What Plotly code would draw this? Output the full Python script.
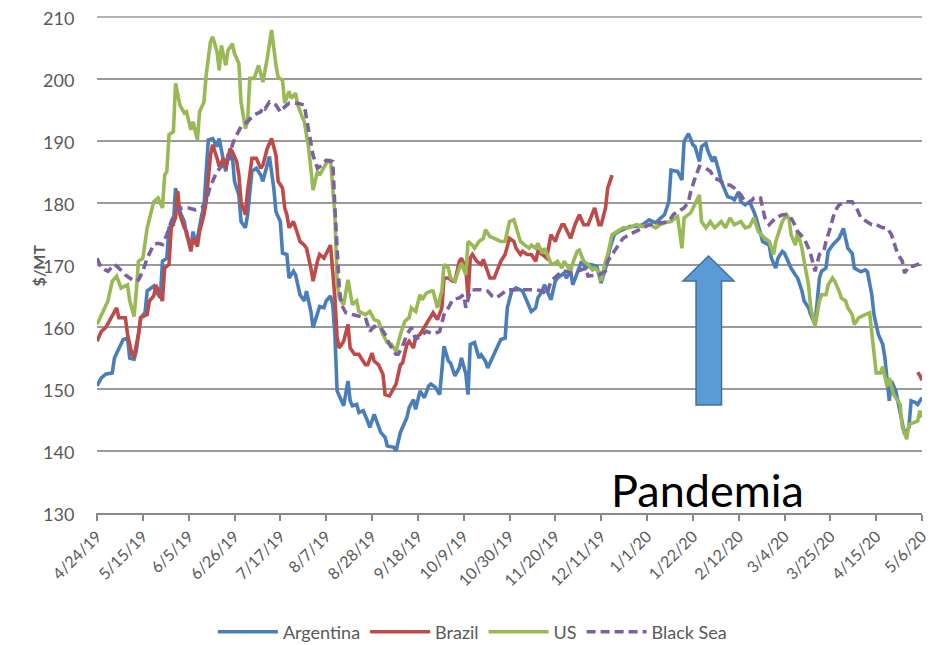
import pandas as pd
import plotly.graph_objects as go

START = "2019-04-24"

TICK_LABELS = ["4/24/19", "5/15/19", "6/5/19", "6/26/19", "7/17/19", "8/7/19", "8/28/19",
               "9/18/19", "10/9/19", "10/30/19", "11/20/19", "12/11/19", "1/1/20", "1/22/20",
               "2/12/20", "3/4/20", "3/25/20", "4/15/20", "5/6/20"]

# ---- Argentina ($/MT), x = days since START ----
ARG_DAY = [0, 2, 4, 7, 8, 10, 12, 14, 15, 17,
           18, 20, 22, 23, 26, 27, 29, 30, 32, 33,
           35, 36, 38, 40, 41, 43, 44, 45, 46, 48,
           49, 51, 53, 55, 56, 58, 59, 60, 62, 63,
           65, 66, 68, 69, 71, 73, 75, 76, 79, 81,
           82, 84, 85, 87, 88, 90, 91, 93, 95, 96,
           98, 99, 101, 102, 104, 105, 107, 108, 109, 110,
           111, 113, 115, 116, 117, 119, 120, 122, 124, 125,
           127, 129, 130, 132, 133, 136, 137, 139, 140, 142,
           143, 145, 146, 148, 150, 152, 153, 155, 157, 159,
           161, 162, 164, 166, 167, 169, 170, 171, 173, 175,
           176, 178, 179, 181, 183, 185, 187, 188, 190, 192,
           195, 197, 199, 201, 202, 204, 205, 207, 208, 210,
           211, 214, 215, 217, 218, 220, 222, 224, 226, 229,
           231, 233, 235, 237, 239, 241, 244, 247, 250, 253,
           256, 259, 260, 262, 263, 266, 268, 269, 271, 273,
           274, 276, 277, 279, 280, 282, 283, 285, 286, 288,
           289, 291, 292, 294, 295, 297, 299, 301, 302, 305,
           308, 309, 311, 312, 314, 315, 317, 318, 320, 321,
           323, 324, 326, 327, 329, 331, 332, 334, 335, 337,
           340, 342, 343, 344, 346, 347, 350, 352, 353, 355,
           356, 358, 360, 361, 363, 364, 366, 367, 369, 370,
           372, 373, 375, 376, 378]
ARG_VAL = [150.5, 151.8, 152.4, 152.6, 155.0, 156.6, 158.0, 158.2, 155.0, 154.8,
           156.1, 161.5, 162.3, 165.8, 166.6, 165.8, 164.7, 170.6, 171.1, 176.0,
           176.5, 182.4, 178.6, 177.0, 174.9, 172.7, 175.4, 173.8, 174.3, 178.1,
           179.4, 190.2, 190.4, 189.1, 190.4, 186.7, 185.1, 187.7, 187.7, 183.5,
           181.3, 177.0, 176.0, 178.1, 185.1, 185.6, 184.5, 183.5, 187.5, 182.4,
           178.6, 177.0, 171.9, 171.7, 167.9, 169.0, 168.4, 165.2, 164.2, 165.8,
           162.5, 159.9, 162.5, 163.3, 163.1, 164.2, 165.0, 163.6, 158.8, 149.7,
           148.9, 147.3, 151.3, 148.1, 147.3, 147.5, 146.2, 146.5, 144.8, 143.8,
           145.9, 143.8, 143.0, 142.2, 140.8, 140.6, 140.0, 143.0, 143.8, 145.4,
           147.0, 148.3, 146.7, 149.7, 148.6, 150.5, 150.8, 150.3, 149.1, 156.9,
           154.5, 154.2, 152.1, 153.4, 155.0, 152.4, 149.1, 157.2, 157.5, 155.0,
           155.5, 154.5, 153.4, 155.0, 156.6, 158.0, 158.2, 163.1, 165.8, 166.3,
           165.8, 164.2, 162.5, 163.1, 164.7, 165.8, 166.8, 165.2, 164.4, 167.4,
           167.9, 168.7, 167.9, 169.0, 166.8, 168.7, 170.6, 169.5, 170.1, 169.8,
           167.1, 169.5, 172.7, 174.9, 175.4, 175.7, 176.2, 176.2, 176.5, 177.3,
           176.8, 177.8, 178.1, 180.2, 185.3, 185.1, 183.7, 189.9, 191.2, 189.4,
           189.1, 186.7, 189.1, 189.6, 188.3, 186.7, 187.5, 185.1, 183.5, 181.8,
           181.0, 180.8, 180.5, 181.8, 180.2, 179.7, 180.2, 178.6, 177.6, 173.8,
           173.2, 171.1, 169.5, 171.1, 172.2, 171.9, 170.1, 169.5, 168.4, 167.9,
           165.8, 164.2, 163.1, 162.0, 160.4, 167.9, 169.0, 169.5, 172.2, 173.2,
           174.3, 175.9, 174.3, 172.7, 171.9, 169.5, 168.9, 169.2, 168.9, 165.2,
           162.0, 158.8, 157.2, 155.0, 148.1, 151.3, 149.7, 147.8, 144.3, 142.7,
           143.8, 148.1, 147.8, 147.5, 148.6]

# ---- Brazil ----
BRA_DAY = [0, 2, 4, 7, 9, 10, 13, 14, 16, 17,
           19, 20, 23, 24, 26, 27, 30, 31, 33, 34,
           36, 37, 38, 40, 41, 43, 44, 46, 47, 49,
           50, 52, 53, 55, 56, 58, 59, 61, 62, 64,
           65, 66, 68, 69, 71, 73, 75, 76, 78, 80,
           82, 83, 85, 86, 87, 88, 90, 91, 93, 95,
           96, 98, 99, 101, 102, 104, 106, 107, 109, 110,
           111, 113, 115, 116, 118, 120, 121, 123, 124, 126,
           127, 129, 131, 132, 134, 136, 137, 139, 140, 142,
           143, 145, 146, 148, 150, 151, 153, 154, 156, 158,
           159, 161, 163, 164, 166, 167, 169, 170, 171, 172,
           174, 176, 177, 179, 180, 182, 185, 187, 189, 191,
           192, 194, 195, 197, 199, 201, 202, 204, 206, 208,
           210, 211, 213, 214, 216, 217, 219, 221, 223, 225,
           228, 230, 231, 233, 234, 236, 300, 376, 377, 378]
BRA_VAL = [157.7, 159.3, 159.9, 162.0, 163.1, 161.5, 161.5, 158.8, 155.6, 155.3,
           158.8, 161.5, 162.0, 164.2, 165.0, 166.8, 164.2, 169.5, 170.1, 176.0,
           177.6, 181.9, 178.1, 176.0, 175.4, 172.2, 174.3, 173.0, 175.4, 178.1,
           180.2, 187.7, 189.4, 187.2, 185.9, 187.2, 185.6, 188.8, 188.3, 186.7,
           184.5, 180.2, 178.1, 181.9, 187.2, 187.2, 185.6, 186.1, 188.8, 190.4,
           187.7, 183.5, 182.4, 179.2, 178.1, 176.0, 177.0, 176.0, 173.8, 173.2,
           172.7, 169.5, 167.4, 170.6, 171.7, 171.1, 172.7, 173.2, 164.7, 158.3,
           156.6, 157.7, 160.4, 156.6, 155.6, 155.6, 155.0, 153.9, 153.9, 155.8,
           154.5, 153.9, 152.4, 149.1, 148.9, 150.3, 150.8, 153.9, 154.2, 157.2,
           157.7, 156.6, 158.3, 158.8, 159.9, 160.4, 161.7, 162.3, 161.2, 163.1,
           167.9, 167.9, 167.4, 167.4, 170.6, 171.1, 169.5, 164.7, 171.1, 171.7,
           170.6, 170.1, 170.9, 169.0, 167.9, 167.9, 170.6, 171.7, 174.3, 173.8,
           172.7, 171.7, 172.2, 171.7, 171.7, 170.6, 172.2, 171.7, 171.1, 174.9,
           173.8, 174.9, 176.5, 176.5, 174.9, 174.3, 176.5, 178.1, 176.5, 176.5,
           179.2, 176.5, 176.5, 179.2, 182.4, 184.5, None, 152.7, 152.2, 151.4]

# ---- US ----
US_DAY = [0, 3, 5, 7, 9, 11, 14, 15, 17, 18,
          19, 21, 23, 26, 28, 30, 31, 32, 33, 35,
          36, 38, 40, 41, 43, 44, 46, 47, 49, 50,
          52, 53, 55, 56, 57, 59, 60, 62, 63, 65,
          66, 68, 69, 70, 72, 74, 76, 78, 80, 82,
          83, 85, 86, 88, 89, 91, 92, 94, 95, 97,
          98, 99, 101, 102, 105, 106, 107, 109, 110, 111,
          113, 115, 117, 119, 120, 123, 125, 127, 129, 131,
          133, 135, 137, 139, 141, 143, 144, 146, 148, 149,
          151, 153, 154, 156, 158, 159, 161, 162, 164, 166,
          167, 169, 170, 172, 173, 175, 177, 178, 180, 182,
          185, 187, 189, 191, 192, 194, 196, 198, 199, 201,
          202, 204, 205, 208, 209, 211, 213, 214, 217, 218,
          220, 221, 223, 225, 227, 228, 230, 231, 233, 234,
          236, 238, 241, 244, 247, 250, 253, 256, 258, 260,
          263, 265, 266, 268, 269, 272, 274, 276, 277, 279,
          281, 283, 286, 288, 290, 292, 295, 297, 299, 301,
          303, 306, 308, 310, 311, 314, 316, 317, 318, 320,
          321, 323, 324, 326, 327, 329, 331, 332, 334, 335,
          337, 338, 340, 341, 343, 344, 346, 347, 349, 350,
          352, 354, 356, 357, 359, 360, 362, 363, 365, 366,
          368, 369, 371, 372, 374, 376, 377, 378]
US_VAL = [160.4, 162.8, 164.2, 167.4, 168.2, 166.3, 166.8, 164.2, 161.7, 165.8,
          170.6, 171.1, 176.0, 180.2, 180.8, 179.2, 184.5, 185.1, 191.0, 191.5,
          199.3, 195.8, 194.5, 194.7, 191.8, 193.1, 190.2, 194.7, 196.3, 200.6,
          206.0, 206.8, 204.4, 201.4, 205.4, 202.2, 204.6, 205.7, 204.1, 202.5,
          196.3, 192.0, 193.1, 200.1, 200.1, 202.2, 199.5, 203.3, 207.9, 202.2,
          200.3, 199.8, 196.1, 198.0, 196.9, 197.7, 195.8, 193.9, 193.1, 188.8,
          185.1, 182.1, 185.1, 184.5, 186.4, 186.7, 187.0, 178.1, 167.4, 164.7,
          163.6, 167.6, 163.6, 164.2, 162.5, 162.0, 162.5, 161.2, 160.9, 158.8,
          157.5, 157.2, 156.1, 158.8, 160.9, 161.5, 163.1, 162.5, 165.2, 164.4,
          165.5, 165.8, 165.8, 163.1, 165.8, 170.1, 169.5, 167.9, 167.4, 169.5,
          170.3, 168.4, 173.8, 173.2, 172.7, 173.8, 174.3, 175.7, 174.6, 174.3,
          173.8, 173.8, 177.0, 177.3, 176.0, 173.8, 173.2, 172.7, 173.2, 172.7,
          173.5, 171.9, 172.7, 170.3, 170.1, 170.6, 169.5, 170.6, 169.0, 170.3,
          172.2, 172.4, 170.6, 170.1, 169.2, 169.5, 169.0, 167.4, 170.6, 171.7,
          174.9, 175.4, 176.0, 176.0, 176.5, 176.2, 176.5, 176.0, 176.5, 176.8,
          177.0, 177.6, 177.8, 172.7, 177.6, 178.4, 179.7, 181.3, 177.0, 176.0,
          177.0, 176.0, 177.0, 176.0, 177.6, 176.5, 177.0, 176.0, 176.2, 177.6,
          175.4, 174.3, 173.8, 171.7, 173.8, 177.0, 178.1, 177.6, 174.9, 173.2,
          175.4, 172.7, 170.6, 166.8, 163.1, 160.1, 164.2, 165.2, 165.2, 166.8,
          167.9, 167.4, 165.8, 164.7, 164.2, 163.1, 162.0, 160.4, 161.5, 161.7,
          162.0, 162.3, 156.6, 152.6, 152.6, 153.6, 150.4, 151.8, 149.1, 148.6,
          147.5, 143.8, 141.9, 144.3, 144.6, 144.8, 146.5, 145.4]

# ---- Black Sea ----
BSEA_DAY = [0, 2, 5, 8, 10, 13, 15, 17, 19, 21,
            23, 26, 28, 30, 32, 34, 36, 39, 42, 45,
            48, 50, 52, 53, 55, 57, 59, 61, 62, 64,
            66, 68, 70, 72, 75, 76, 77, 79, 82, 84,
            86, 88, 92, 95, 96, 98, 99, 101, 103, 105,
            108, 109, 110, 111, 112, 114, 117, 120, 123, 125,
            127, 130, 132, 134, 137, 138, 140, 142, 144, 146,
            149, 151, 153, 155, 157, 159, 161, 163, 166, 168,
            169, 171, 173, 176, 179, 181, 183, 185, 188, 192,
            195, 198, 201, 204, 206, 208, 211, 213, 215, 217,
            220, 222, 224, 225, 228, 230, 233, 234, 237, 239,
            241, 244, 247, 250, 253, 256, 259, 262, 264, 266,
            269, 271, 272, 274, 276, 279, 281, 283, 285, 288,
            290, 292, 295, 297, 299, 301, 304, 306, 308, 311,
            314, 317, 319, 321, 324, 326, 327, 329, 331, 333,
            334, 336, 338, 340, 343, 346, 348, 350, 353, 355,
            357, 360, 362, 364, 366, 367, 369, 370, 372, 374,
            376, 378]
BSEA_VAL = [171.1, 169.5, 169.0, 170.1, 169.5, 168.4, 167.9, 167.4, 167.6, 169.0,
            171.1, 173.3, 173.5, 173.3, 174.9, 177.0, 178.6, 179.2, 179.2, 178.9,
            179.2, 180.2, 182.9, 183.5, 185.1, 185.9, 186.7, 187.2, 189.4, 191.0,
            192.3, 192.8, 193.6, 194.2, 194.7, 195.5, 195.2, 196.3, 195.8, 194.7,
            195.5, 196.1, 196.1, 195.8, 193.6, 189.4, 187.7, 185.6, 186.1, 186.9,
            186.7, 179.2, 171.7, 166.3, 163.6, 162.3, 162.0, 161.7, 161.5, 159.3,
            160.1, 159.9, 158.8, 157.2, 155.6, 155.6, 156.9, 158.8, 159.9, 158.0,
            158.8, 159.3, 159.0, 159.0, 159.3, 162.0, 163.1, 164.4, 164.7, 165.2,
            163.1, 165.8, 166.0, 166.0, 165.8, 165.0, 164.7, 165.2, 166.0, 166.0,
            166.0, 166.0, 166.0, 165.8, 165.2, 167.4, 168.4, 169.0, 169.0, 168.7,
            169.0, 169.2, 169.5, 168.2, 168.4, 168.4, 169.0, 170.6, 172.2, 173.3,
            174.3, 174.9, 175.4, 176.0, 176.5, 176.8, 176.8, 177.0, 178.1, 178.6,
            179.2, 180.2, 181.8, 184.0, 185.9, 185.6, 185.1, 184.0, 183.7, 182.9,
            182.9, 182.4, 181.3, 180.2, 180.0, 180.8, 180.8, 177.6, 176.5, 177.6,
            178.1, 178.1, 177.0, 175.4, 174.3, 172.7, 171.7, 169.0, 171.7, 172.2,
            173.8, 176.0, 178.6, 179.7, 180.2, 180.2, 179.2, 177.6, 177.0, 176.5,
            176.5, 176.0, 176.0, 174.9, 172.7, 171.7, 170.6, 168.7, 169.8, 169.8,
            170.1, 170.3]

SERIES = [
    ("Argentina", ARG_DAY, ARG_VAL, "#4A7EBB", "solid"),
    ("Brazil", BRA_DAY, BRA_VAL, "#BE4B48", "solid"),
    ("US", US_DAY, US_VAL, "#98B954", "solid"),
    ("Black Sea", BSEA_DAY, BSEA_VAL, "#7D60A0", "9px,5px"),
]

start = pd.Timestamp(START)
fig = go.Figure()
for name, days, vals, color, dash in SERIES:
    assert len(days) == len(vals), name
    x = start + pd.to_timedelta(days, unit="D")
    fig.add_trace(go.Scatter(
        x=x, y=vals, name=name, mode="lines", connectgaps=False,
        line=dict(color=color, width=3.6, dash=dash),
    ))

tickvals = pd.to_datetime(TICK_LABELS, format="%m/%d/%y")

FONT = "Lato, 'Open Sans', sans-serif"
GREY = "#595959"

# The page body adds an 8px offset, so the figure is 8px smaller each way
fig.update_layout(
    width=932, height=637,
    margin=dict(l=89, r=18, t=9, b=132, autoexpand=False),
    paper_bgcolor="white", plot_bgcolor="white",
    font=dict(family=FONT, color=GREY),
    showlegend=True,
    legend=dict(orientation="h", x=0.455, xanchor="center", y=-0.24, yanchor="middle",
                font=dict(size=18, color=GREY), itemwidth=60, tracegroupgap=0),
)
fig.update_xaxes(
    type="date", range=[tickvals[0], tickvals[-1]], automargin=False,
    tickmode="array", tickvals=tickvals, ticktext=TICK_LABELS,
    tickangle=-45, tickfont=dict(size=16, color=GREY),
    ticks="outside", ticklen=6, tickcolor="#888888", tickwidth=1.5,
    showline=True, linecolor="#888888", linewidth=1.5,
    showgrid=False, zeroline=False, ticklabeloverflow="allow",
)
fig.update_yaxes(
    range=[130, 210], dtick=10, tick0=130, automargin=False,
    tickfont=dict(size=18, color=GREY), ticklabelstandoff=18, ticklabelshift=2,
    ticklabeloverflow="allow",
    showgrid=True, gridcolor="#9a9a9a", gridwidth=1.5,
    zeroline=False, showline=True, mirror=False, linecolor="rgba(0,0,0,0)",
    ticks="",
)

# top gridline (210) drawn explicitly in case the edge grid is skipped
fig.add_shape(type="line", xref="paper", yref="paper", x0=0, x1=1, y0=1, y1=1,
              line=dict(color="#9a9a9a", width=1.5), layer="below")

# y-axis title
fig.add_annotation(text="<b>$/MT</b>", xref="paper", yref="paper", x=-0.085, y=0.5,
                   textangle=-90, showarrow=False,
                   font=dict(size=16, color=GREY, family=FONT))

# block arrow (Pandemia)
fig.add_shape(
    type="path", xref="paper", yref="paper",
    path="M 0.7412 0.5181 L 0.7721 0.4677 L 0.7570 0.4677 L 0.7570 0.2177 "
         "L 0.7261 0.2177 L 0.7261 0.4677 L 0.7103 0.4677 Z",
    fillcolor="#5B9BD5", line=dict(color="#41719C", width=1.5),
)
fig.add_annotation(text="Pandemia", xref="paper", yref="paper", x=0.7406, y=0.046,
                   showarrow=False, xanchor="center", yanchor="middle",
                   font=dict(size=45, color="black", family=FONT))

fig.add_annotation(text="Source:", xref="paper", yref="paper", x=0.919, y=-0.256,
                   xanchor="left", yanchor="top", showarrow=False,
                   font=dict(size=15, color=GREY, family=FONT))

fig.write_html("out.html")
